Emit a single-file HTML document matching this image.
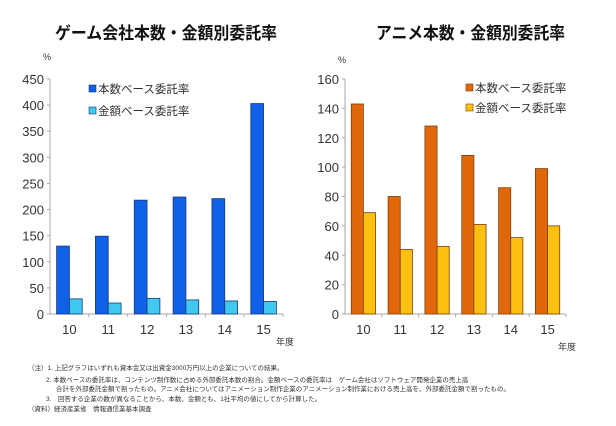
<!DOCTYPE html>
<html><head><meta charset="utf-8"><style>
body{margin:0;background:#fff;width:616px;height:426px;overflow:hidden;font-family:"Liberation Sans","Noto Sans CJK JP",sans-serif}
.note{position:absolute;left:60px;font-size:6.5px;color:#333;white-space:nowrap;line-height:1}
</style></head><body>
<svg width="616" height="426" style="position:absolute;left:0;top:0">
<g id="c1"></g>
<g id="c2"></g>
</svg>
<div class="note" style="left:28px;top:366px">（注）1. 上記グラフはいずれも資本金又は出資金3000万円以上の企業についての結果。</div>
<div class="note" style="left:46px;top:378px">2. 本数ベースの委託率は、コンテンツ制作数に占める外部委託本数の割合。金額ベースの委託率は　ゲーム会社はソフトウェア開発企業の売上高</div>
<div class="note" style="left:56px;top:387px">合計を外部委託金額で割ったもの。アニメ会社についてはアニメーション制作企業のアニメーション制作業における売上高を、外部委託金額で割ったもの。</div>
<div class="note" style="left:46px;top:397px">3.　回答する企業の数が異なることから、本数、金額とも、1社平均の値にしてから計算した。</div>
<div class="note" style="left:28px;top:407px">（資料）経済産業省　情報通信業基本調査</div>
<script>
const categories=["10","11","12","13","14","15"];
const gameCount=[130,149,218,224,221,403];
const gameAmount=[29,21,30,27,25,24];
const gameTicks=[0,50,100,150,200,250,300,350,400,450];
const animeCount=[143,80,128,108,86,99];
const animeAmount=[69,44,46,61,52,60];
const animeTicks=[0,20,40,60,80,100,120,140,160];
const NS="http://www.w3.org/2000/svg";
function mk(p,t,a,txt){const e=document.createElementNS(NS,t);for(const k in a)e.setAttribute(k,a[k]);if(txt!==undefined)e.textContent=txt;p.appendChild(e);return e;}
function chart(g,o){
 const x0=o.x0,x1=o.x1,y0=314,yTop=79,max=o.ticks[o.ticks.length-1];
 const ys=v=>y0-(v/max)*(y0-yTop);
 const cw=(x1-x0)/categories.length;const bw=cw*0.33;
 let t=mk(g,"text",{x:o.tx,y:39,"font-size":"17","font-weight":"bold",fill:"#111",textLength:o.tw,lengthAdjust:"spacingAndGlyphs"},o.title);
 
 
 t=mk(g,"text",{x:x0-7,y:o.pctY,"font-size":"9",fill:"#333"},"%");
 
 
 o.ticks.forEach(v=>{
  const l=mk(g,"text",{x:x0-6,y:ys(v)+5,"text-anchor":"end","font-size":"13",fill:"#333"},v);
  
  
  mk(g,"line",{x1:x0-3,x2:x0,y1:ys(v),y2:ys(v),stroke:"#aaa"});
 });
 mk(g,"line",{x1:x0,x2:x0,y1:yTop,y2:y0,stroke:"#aaa"});
 mk(g,"line",{x1:x0,x2:x1,y1:y0,y2:y0,stroke:"#aaa"});
 categories.forEach((c,i)=>{
  const cx=x0+cw*(i+0.5);
  mk(g,"line",{x1:x0+cw*(i+1),x2:x0+cw*(i+1),y1:y0,y2:y0+3,stroke:"#aaa"});
  const l=mk(g,"text",{x:cx,y:y0+20,"text-anchor":"middle","font-size":"13",fill:"#333"},c);
  
  
  const b1=mk(g,"rect",{x:cx-bw,y:ys(o.a[i]),width:bw,height:y0-ys(o.a[i]),fill:o.c1,stroke:o.s,"stroke-width":"0.8"});
  
  
  const b2=mk(g,"rect",{x:cx,y:ys(o.b[i]),width:bw,height:y0-ys(o.b[i]),fill:o.c2,stroke:o.s,"stroke-width":"0.8"});
  
  
 });
 t=mk(g,"text",{x:o.nx,y:o.ny,"font-size":"9",fill:"#333"},"年度");
 
 
 [[o.c1,"本数ベース委託率"],[o.c2,"金額ベース委託率"]].forEach((e,i)=>{
  const y=o.ly+i*o.lg;
  const r=mk(g,"rect",{x:o.lx,y:y-4,width:7,height:7,fill:e[0],stroke:o.s,"stroke-width":"0.6"});
  
  
  const l=mk(g,"text",{x:o.lx+9,y:y+4,"font-size":"11.5",fill:"#333"},e[1]);
  
  
 });
}
chart(document.getElementById("c1"),{x0:50,x1:283,ticks:gameTicks,a:gameCount,b:gameAmount,c1:"#1060e8",c2:"#40c8ee",s:"#1a3a70",title:"ゲーム会社本数・金額別委託率",tx:55,tw:222,pctY:60,nx:276,ny:345,lx:89,ly:89,lg:22});
chart(document.getElementById("c2"),{x0:345,x1:566,ticks:animeTicks,a:animeCount,b:animeAmount,c1:"#e0680a",c2:"#fcc010",s:"#7a4010",title:"アニメ本数・金額別委託率",tx:376,tw:189,pctY:63,nx:558,ny:350,lx:466,ly:88,lg:20});
</script>
</body></html>
